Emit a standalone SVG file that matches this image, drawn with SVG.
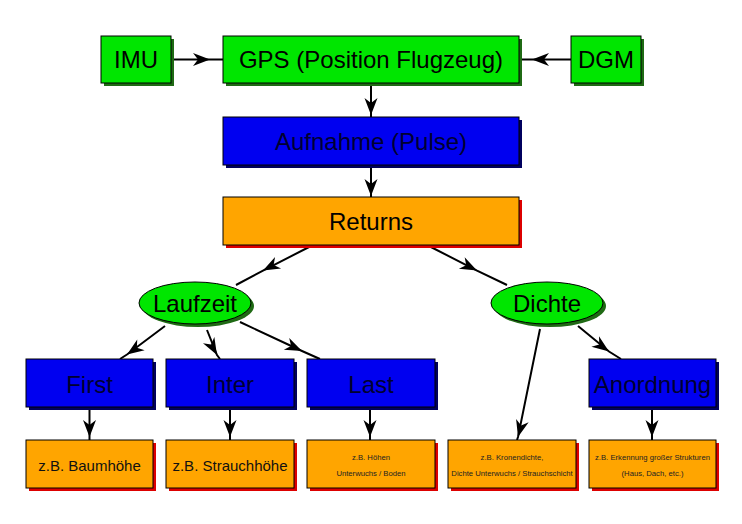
<svg xmlns="http://www.w3.org/2000/svg" width="742" height="524" viewBox="0 0 742 524">
<style>
text{font-family:"Liberation Sans",Arial,sans-serif;text-anchor:middle}
.g{fill:#00e600;stroke:#000;stroke-width:1}
.gs{fill:#1f6a14}
.b{fill:#0000f0;stroke:#000;stroke-width:1}
.bs{fill:#00005e}
.o{fill:#ffa500;stroke:#000;stroke-width:1}
.os{fill:#dd0000}
.t{font-size:24px;fill:#000}
.tb{font-size:24px;fill:#000030}
.s{font-size:15px;fill:#111}
.xs{font-size:7.7px;fill:#222}
.c path{fill:none;stroke:#000;stroke-width:2;marker-mid:url(#ah)}
</style>
<defs>
<marker id="ah" markerUnits="userSpaceOnUse" viewBox="-19 -8 20 16" markerWidth="20" markerHeight="16" refX="0" refY="0" orient="auto">
<path d="M0,0 L-17,-6.5 L-12,0 L-17,6.5 Z" fill="#000"/>
</marker>
</defs>
<rect width="742" height="524" fill="#fff"/>
<g id="connectors" class="c">
<path d="M171,59.5 L210,59.5 L223,59.5"/>
<path d="M571,59.5 L532,59.5 L519,59.5"/>
<path d="M371,83 L371,115 L371,117"/>
<path d="M371,165 L371,196 L371,197"/>
<path d="M313,245 L263,270.6 L236,285"/>
<path d="M427,245 L477,270.6 L507,285"/>
<path d="M165,326 L127,354.5 L120,359"/>
<path d="M207,330 L217,355 L220,359"/>
<path d="M240,322 L302,351 L320,359"/>
<path d="M540,329 L518,437 L517,440"/>
<path d="M578,326 L609,351.5 L621,359"/>
<path d="M89.5,407 L89.5,437 L89.5,440"/>
<path d="M230,407 L230,437 L230,440"/>
<path d="M370,407 L370,437 L370,440"/>
<path d="M652,407 L652,437 L652,440"/>
</g>
<g id="imu"><rect class="gs" x="104" y="39" width="70" height="47"/><rect class="g" x="101" y="36" width="70" height="47"/><text class="t" x="136" y="68">IMU</text></g>
<g id="gps"><rect class="gs" x="226" y="39" width="296" height="47"/><rect class="g" x="223" y="36" width="296" height="47"/><text class="t" x="371" y="68">GPS (Position Flugzeug)</text></g>
<g id="dgm"><rect class="gs" x="574" y="39" width="70" height="47"/><rect class="g" x="571" y="36" width="70" height="47"/><text class="t" x="606" y="68">DGM</text></g>
<g id="aufnahme"><rect class="bs" x="226" y="120" width="296" height="48"/><rect class="b" x="223" y="117" width="296" height="48"/><text class="tb" x="371" y="149.5">Aufnahme (Pulse)</text></g>
<g id="returns"><rect class="os" x="226" y="200" width="296" height="48"/><rect class="o" x="223" y="197" width="296" height="48"/><text class="t" x="371" y="229.5">Returns</text></g>
<g id="laufzeit"><ellipse class="gs" cx="198" cy="306" rx="56" ry="21"/><ellipse class="g" cx="195" cy="303" rx="56" ry="21"/><text class="t" x="195" y="311.5">Laufzeit</text></g>
<g id="dichte"><ellipse class="gs" cx="550" cy="306" rx="56" ry="21"/><ellipse class="g" cx="547" cy="303" rx="56" ry="21"/><text class="t" x="547" y="311.5">Dichte</text></g>
<g id="first"><rect class="bs" x="29" y="362" width="127" height="48"/><rect class="b" x="26" y="359" width="127" height="48"/><text class="tb" x="89.5" y="392.5">First</text></g>
<g id="inter"><rect class="bs" x="169" y="362" width="128" height="48"/><rect class="b" x="166" y="359" width="128" height="48"/><text class="tb" x="230" y="392.5">Inter</text></g>
<g id="last"><rect class="bs" x="310" y="362" width="128" height="48"/><rect class="b" x="307" y="359" width="128" height="48"/><text class="tb" x="371" y="392.5">Last</text></g>
<g id="anordnung"><rect class="bs" x="592" y="362" width="127" height="48"/><rect class="b" x="589" y="359" width="127" height="48"/><text class="tb" x="652.5" y="392.5">Anordnung</text></g>
<g id="baumhoehe"><rect class="os" x="29" y="443" width="127" height="48"/><rect class="o" x="26" y="440" width="127" height="48"/><text class="s" x="89.5" y="470.5">z.B. Baumhöhe</text></g>
<g id="strauchhoehe"><rect class="os" x="169" y="443" width="128" height="48"/><rect class="o" x="166" y="440" width="128" height="48"/><text class="s" x="230" y="470.5">z.B. Strauchhöhe</text></g>
<g id="hoehen"><rect class="os" x="310" y="443" width="128" height="48"/><rect class="o" x="307" y="440" width="128" height="48"/><text class="xs" x="371" y="460">z.B. Höhen</text><text class="xs" x="371" y="476">Unterwuchs / Boden</text></g>
<g id="kronendichte"><rect class="os" x="451" y="443" width="128" height="48"/><rect class="o" x="448" y="440" width="128" height="48"/><text class="xs" x="512" y="460">z.B. Kronendichte,</text><text class="xs" x="512" y="476">Dichte Unterwuchs / Strauchschicht</text></g>
<g id="strukturen"><rect class="os" x="592" y="443" width="127" height="48"/><rect class="o" x="589" y="440" width="127" height="48"/><text class="xs" x="652.5" y="460">z.B. Erkennung großer Strukturen</text><text class="xs" x="652.5" y="476">(Haus, Dach, etc.)</text></g>
</svg>
